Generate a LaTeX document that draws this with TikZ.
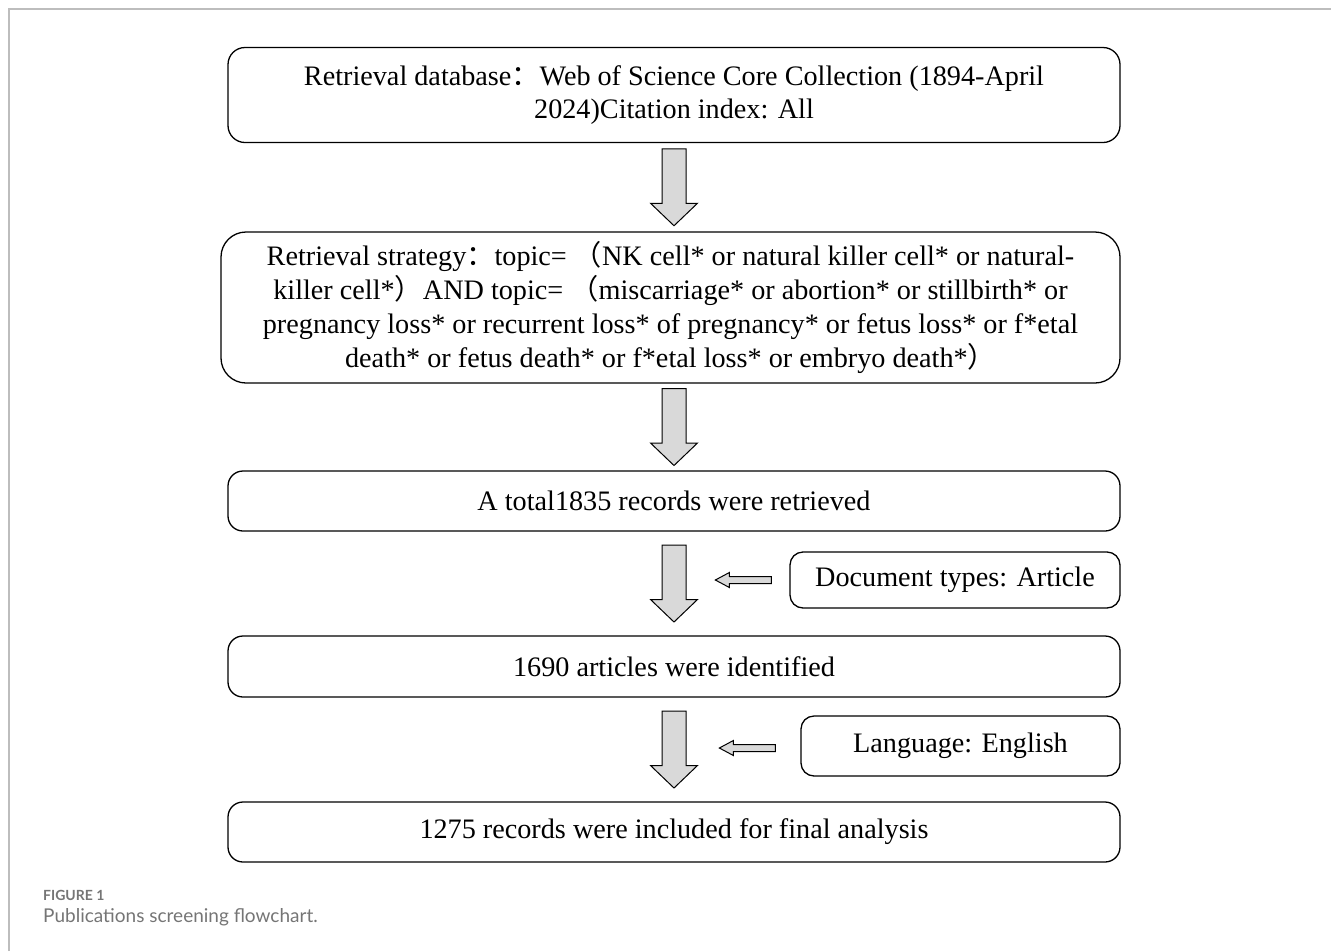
\documentclass[tikz,border=0pt]{standalone}
\usepackage{fontspec}
\setmainfont{Liberation Serif}
\newfontfamily\capfont{Lato}
\newfontfamily\cjk{Noto Sans CJK SC}
\usepackage{tikz}
\usetikzlibrary{calc,positioning}
\definecolor{framec}{HTML}{BDBDBD}
\definecolor{arrfill}{HTML}{D9D9D9}
\definecolor{capc}{HTML}{757575}
\tikzset{
  box/.style={draw,line width=1.3pt,rounded corners=15pt,align=center,inner sep=0pt,font=\fontsize{28.2}{32.5}\selectfont},
  sidebox/.style={box,rounded corners=13pt},
  blk/.style={draw,line width=1pt,fill=arrfill,line join=miter},
  downarr/.pic={\draw[blk] (-12,-38.5)--(12,-38.5)--(12,16)--(23.5,16)--(0,38.5)--(-23.5,16)--(-12,16)--cycle;},
  leftarr/.pic={\draw[blk] (0,-3.5)--(-42,-3.5)--(-42,-7.5)--(-56,0)--(-42,7.5)--(-42,3.5)--(0,3.5)--cycle;}
}
\begin{document}
\begin{tikzpicture}[x=1pt,y=-1pt]
\useasboundingbox (0,0) rectangle (1331,951);
\draw[framec,line width=2pt] (9,951)--(9,9)--(1331,9);
\node[box,minimum width=892pt,minimum height=95pt,rounded corners=17pt] (ret) at (674,95)
  {Retrieval database{\cjk ：}Web of Science Core Collection (1894-April\\2024)Citation index: All};
\node[box,minimum width=899pt,minimum height=151pt,rounded corners=25pt,font=\fontsize{28.2}{34.2}\selectfont] (strat) at (670.5,307.5)
  {Retrieval strategy{\cjk ：}topic= {\cjk （}NK cell* or natural killer cell* or natural-\\
   killer cell*{\cjk ）}AND topic= {\cjk （}miscarriage* or abortion* or stillbirth* or\\
   pregnancy loss* or recurrent loss* of pregnancy* or fetus loss* or f*etal\\
   death* or fetus death* or f*etal loss* or embryo death*{\cjk ）}};
\node[box,minimum width=892pt,minimum height=60pt] (total) at (674,501) {A total1835 records were retrieved};
\node[sidebox,minimum width=330pt,minimum height=56pt] (doctype) at (955,580) {Document types: Article};
\node[box,minimum width=892pt,minimum height=61pt] (ident) at (674,666.5) {1690 articles were identified};
\node[sidebox,minimum width=319pt,minimum height=60pt] (lang) at (960.5,746) {Language: English};
\node[box,minimum width=892pt,minimum height=60pt] (final) at (674,832) {1275 records were included for final analysis};
\pic at ($(ret.south)!0.5!(ret.south|-strat.north)$) {downarr};
\pic at ($(ret.south|-strat.south)!0.5!(total.north)$) {downarr};
\pic at ($(total.south)!0.5!(ident.north)$) {downarr};
\pic at ($(ident.south)!0.5!(final.north)$) {downarr};
\pic at ([xshift=-18pt]doctype.west) {leftarr};
\pic at ([xshift=-25pt,yshift=-2pt]lang.west) {leftarr};
\node[anchor=base west,inner sep=0pt,text=capc,font=\capfont\bfseries\fontsize{14}{17}\selectfont] (fig) at (43,900) {FIGURE 1};
\node[anchor=base west,inner sep=0pt,text=capc,font=\capfont\fontsize{19}{22}\selectfont] (cap) at (43,922) {Publications screening flowchart.};
\end{tikzpicture}
\end{document}
